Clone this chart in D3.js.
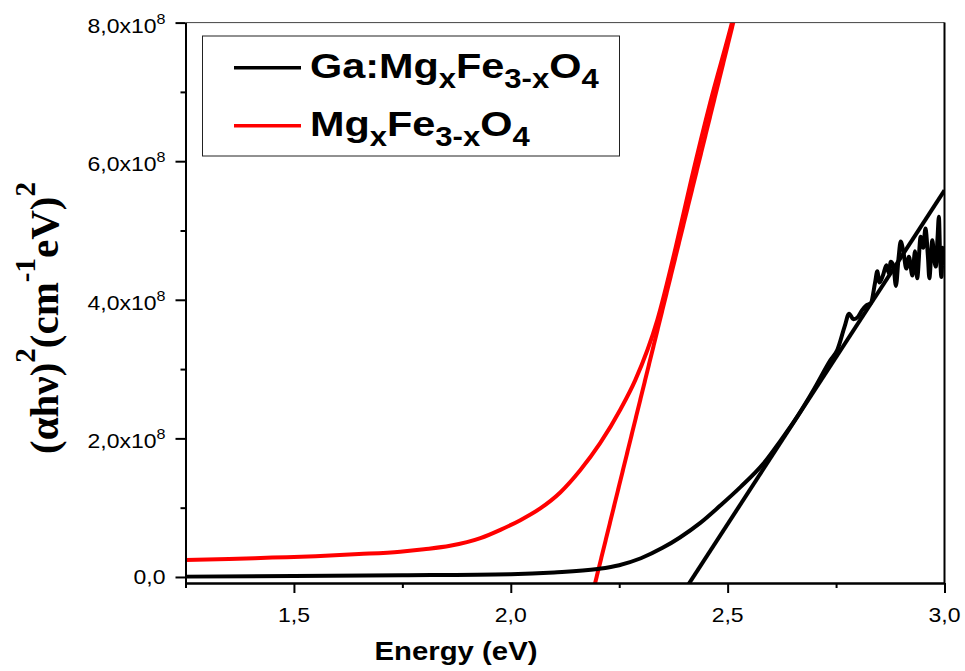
<!DOCTYPE html>
<html>
<head>
<meta charset="utf-8">
<script src="https://cdn.jsdelivr.net/npm/d3@7"></script>
<style>
  html, body { margin: 0; padding: 0; background: #fff; }
  svg { display: block; }
</style>
</head>
<body>
<svg id="chart" width="965" height="671"></svg>
<script>
// ---------- data ----------
const seriesNames = ["Ga:MgxFe3-xO4", "MgxFe3-xO4"];
const seriesColors = ["#000000", "#ff0000"];

// Ga:MgxFe3-xO4 (black), values in units of 1e8
const blackX = [1.25, 1.5, 1.75, 2.0, 2.1, 2.2, 2.25, 2.3, 2.35, 2.39, 2.437, 2.483, 2.53, 2.583, 2.62, 2.66, 2.70, 2.737, 2.753,
  2.77, 2.78, 2.79, 2.80, 2.81, 2.82, 2.83, 2.84, 2.845, 2.85, 2.858, 2.866, 2.872, 2.876, 2.882, 2.888, 2.894, 2.899, 2.905,
  2.912, 2.918, 2.926, 2.932, 2.937, 2.945, 2.951, 2.956, 2.962, 2.965, 2.972, 2.976, 2.98, 2.984, 2.987, 2.99, 2.993, 2.996, 3.0];
const blackY = [0.005, 0.015, 0.025, 0.04, 0.065, 0.115, 0.17, 0.27, 0.42, 0.57, 0.78, 1.03, 1.30, 1.64, 1.95, 2.31, 2.72, 3.13, 3.28,
  3.62, 3.80, 3.72, 3.75, 3.85, 3.92, 3.95, 4.25, 4.41, 4.25, 4.35, 4.50, 4.38, 4.55, 4.50, 4.20, 4.60, 4.84, 4.70,
  4.45, 4.62, 4.35, 4.70, 4.31, 4.91, 4.75, 5.03, 4.60, 4.31, 4.86, 4.60, 4.48, 4.90, 5.20, 4.60, 4.33, 4.75, 4.50];

// MgxFe3-xO4 (red)
const redX = [1.25, 1.35, 1.45, 1.55, 1.65, 1.745, 1.80, 1.86, 1.93, 1.976, 2.022, 2.068, 2.114, 2.16, 2.206, 2.253, 2.287, 2.338, 2.38, 2.416, 2.46, 2.51, 2.53];
const redY = [0.245, 0.26, 0.28, 0.30, 0.33, 0.365, 0.40, 0.45, 0.56, 0.68, 0.82, 0.99, 1.22, 1.54, 1.93, 2.42, 2.84, 3.71, 4.75, 5.73, 6.85, 8.0, 8.5];

// linear (Tauc) fits
const fitBlackX = [2.40, 3.0];
const fitBlackY = [-0.20, 5.58];
const fitRedX = [2.19, 2.52];
const fitRedY = [-0.20, 8.18];

const yScaleUnit = 1e8;
const xMajorTicks = [1.5, 2.0, 2.5, 3.0];
const xMinorTicks = [1.25, 1.75, 2.25, 2.75];
const xTickLabels = ["1,5", "2,0", "2,5", "3,0"];
const yMajorTicks = [0, 2e8, 4e8, 6e8, 8e8];
const yMinorTicks = [1e8, 3e8, 5e8, 7e8];
const yTickMantissa = ["0,0", "2,0x10", "4,0x10", "6,0x10", "8,0x10"];
const yTickExponent = ["", "8", "8", "8", "8"];

// ---------- layout ----------
const svg = d3.select("#chart");
const L = 185.5, R = 944.5, T = 22.6, B = 583;
const x = d3.scaleLinear().domain([1.25, 3.0]).range([L, R]);
const y = d3.scaleLinear().domain([-0.087e8, 8e8]).range([B, T]);
const SX = 1.15; // horizontal text stretch of the reference

svg.append("defs").append("clipPath").attr("id", "clip")
  .append("rect").attr("x", L).attr("y", T).attr("width", R - L).attr("height", B - T);

const smooth = d3.line().curve(d3.curveMonotoneX).x(d => x(d[0])).y(d => y(d[1] * yScaleUnit));
const straight = d3.line().x(d => x(d[0])).y(d => y(d[1] * yScaleUnit));
const plot = svg.append("g").attr("clip-path", "url(#clip)");

function zip(a, b) { return a.map((v, i) => [v, b[i]]); }

plot.append("path").datum(zip(redX, redY)).attr("d", smooth)
  .attr("fill", "none").attr("stroke", seriesColors[1]).attr("stroke-width", 4).attr("stroke-linejoin", "round");
plot.append("path").datum(zip(fitRedX, fitRedY)).attr("d", straight)
  .attr("fill", "none").attr("stroke", seriesColors[1]).attr("stroke-width", 4);
plot.append("path").datum(zip(blackX, blackY)).attr("d", smooth)
  .attr("fill", "none").attr("stroke", seriesColors[0]).attr("stroke-width", 4).attr("stroke-linejoin", "round");
plot.append("path").datum(zip(fitBlackX, fitBlackY)).attr("d", straight)
  .attr("fill", "none").attr("stroke", seriesColors[0]).attr("stroke-width", 4);

// ---------- axes ----------
svg.append("line").attr("x1", L).attr("x2", R).attr("y1", T).attr("y2", T)
  .attr("stroke", "#444").attr("stroke-width", 1);
svg.append("line").attr("x1", R).attr("x2", R).attr("y1", T).attr("y2", B)
  .attr("stroke", "#000").attr("stroke-width", 2);

function styleAxis(g) {
  g.select(".domain").attr("stroke", "#000").attr("stroke-width", 2);
  g.selectAll(".tick line").attr("stroke", "#000").attr("stroke-width", 2);
  g.selectAll(".tick text").remove();
}

const xAxisMajor = svg.append("g").attr("transform", `translate(0,${B})`)
  .call(d3.axisBottom(x).tickValues(xMajorTicks).tickSize(10).tickSizeOuter(0).tickFormat(""));
styleAxis(xAxisMajor);
const xAxisMinor = svg.append("g").attr("transform", `translate(0,${B})`)
  .call(d3.axisBottom(x).tickValues(xMinorTicks).tickSize(5).tickSizeOuter(0).tickFormat(""));
styleAxis(xAxisMinor);
const yAxisMajor = svg.append("g").attr("transform", `translate(${L},0)`)
  .call(d3.axisLeft(y).tickValues(yMajorTicks).tickSize(10).tickSizeOuter(0).tickFormat(""));
styleAxis(yAxisMajor);
const yAxisMinor = svg.append("g").attr("transform", `translate(${L},0)`)
  .call(d3.axisLeft(y).tickValues(yMinorTicks).tickSize(5).tickSizeOuter(0).tickFormat(""));
styleAxis(yAxisMinor);

const sans = "'Liberation Sans', Arial, Helvetica, sans-serif";

// x tick labels
xMajorTicks.forEach((v, i) => {
  svg.append("text")
    .attr("transform", `translate(${x(v)},${B + 39}) scale(${SX},1)`)
    .attr("text-anchor", "middle").attr("font-family", sans).attr("font-size", 20)
    .text(xTickLabels[i]);
});

// y tick labels
yMajorTicks.forEach((v, i) => {
  const t = svg.append("text")
    .attr("transform", `translate(${L - 20},${y(v) + (yTickExponent[i] ? 10 : 7.5)}) scale(${SX},1)`)
    .attr("text-anchor", "end").attr("font-family", sans).attr("font-size", 20);
  t.append("tspan").text(yTickMantissa[i]);
  if (yTickExponent[i]) t.append("tspan").attr("font-size", 14).attr("dy", -9).text(yTickExponent[i]);
});

// x axis title
svg.append("text")
  .attr("transform", `translate(${456},${660}) scale(${SX},1)`)
  .attr("text-anchor", "middle").attr("font-family", sans).attr("font-weight", "bold").attr("font-size", 25.5)
  .text("Energy (eV)");

// y axis title
const yt = svg.append("text")
  .attr("transform", `translate(${58},${318}) rotate(-90)`)
  .attr("text-anchor", "middle").attr("font-family", "'Liberation Serif', 'Times New Roman', serif")
  .attr("font-weight", "bold").attr("font-size", 41);
yt.append("tspan").text("(αhν)");
yt.append("tspan").attr("font-size", 29).attr("dy", -23).text("2");
yt.append("tspan").attr("dy", 23).text("(cm");
yt.append("tspan").attr("font-size", 29).attr("dy", -23).text("-1");
yt.append("tspan").attr("dy", 23).text("eV)");
yt.append("tspan").attr("font-size", 29).attr("dy", -23).text("2");

// ---------- legend ----------
const lg = svg.append("g");
lg.append("rect").attr("x", 202.5).attr("y", 36).attr("width", 417).attr("height", 120)
  .attr("fill", "#fff").attr("stroke", "#222").attr("stroke-width", 1);

const legendRows = [
  { color: seriesColors[0], y: 67.7, parts: [["Ga:Mg", 0], ["x", 1], ["Fe", 0], ["3-x", 1], ["O", 0], ["4", 1]] },
  { color: seriesColors[1], y: 125.7, parts: [["Mg", 0], ["x", 1], ["Fe", 0], ["3-x", 1], ["O", 0], ["4", 1]] }
];
legendRows.forEach(row => {
  lg.append("line").attr("x1", 234).attr("x2", 301).attr("y1", row.y).attr("y2", row.y)
    .attr("stroke", row.color).attr("stroke-width", 3.5);
  const t = lg.append("text")
    .attr("transform", `translate(310,${row.y + 10.5}) scale(${SX},1)`)
    .attr("font-family", sans).attr("font-weight", "bold").attr("font-size", 36);
  let prevSub = 0;
  row.parts.forEach(([s, sub]) => {
    const ts = t.append("tspan").text(s).attr("font-size", sub ? 27 : 36);
    const dy = (sub - prevSub) * 10;
    if (dy) ts.attr("dy", dy);
    prevSub = sub;
  });
});
</script>
</body>
</html>
